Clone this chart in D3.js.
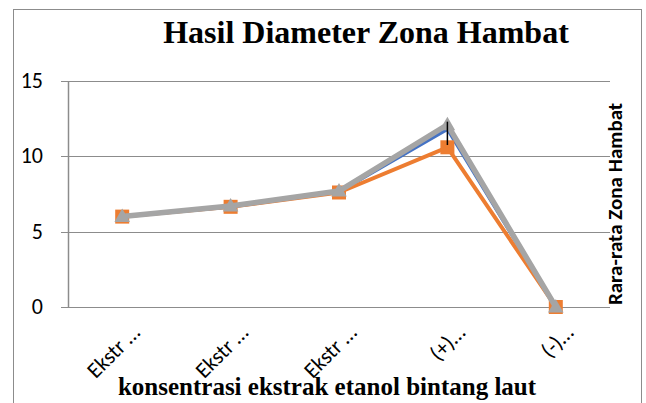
<!DOCTYPE html>
<html>
<head>
<meta charset="utf-8">
<script src="https://cdn.jsdelivr.net/npm/d3@7"></script>
<style>
  body { margin: 0; background: #fff; }
  svg { display: block; }
</style>
</head>
<body>
<svg id="chart" width="646" height="403"></svg>
<script>
// data
const categories = ['Ekstr …', 'Ekstr …', 'Ekstr …', '(+)…', '(-)…'];
const seriesBlue = [6.0, 6.65, 7.65, 11.8, 0];
const seriesOrange = [6.0, 6.65, 7.6, 10.6, 0];
const seriesGray = [6.0, 6.7, 7.7, 12.1, 0];
// error bar drawn only on the peak point
const errorLow = [null, null, null, 10.75, null];
const errorHigh = [null, null, null, 12.3, null];
const yTicks = [0, 5, 10, 15];

const svg = d3.select('#chart');
const margin = { left: 68, right: 36, top: 81, bottom: 96 };
const W = 646, H = 403;
const sans = 'Carlito, "Liberation Sans", sans-serif';
const serif = '"Liberation Serif", "Times New Roman", serif';

// outer frame
svg.append('rect')
  .attr('x', 13.5).attr('y', 9.5)
  .attr('width', 628).attr('height', 400)
  .attr('fill', 'none').attr('stroke', '#8c8c8c').attr('stroke-width', 1);

const x = d3.scalePoint()
  .domain(d3.range(categories.length))
  .range([margin.left, W - margin.right])
  .padding(0.5);

const y = d3.scaleLinear()
  .domain([0, 15])
  .range([H - margin.bottom, margin.top]);

// grid lines
svg.append('g')
  .selectAll('line')
  .data(yTicks)
  .enter()
  .append('line')
  .attr('x1', margin.left - 7)
  .attr('x2', W - margin.right)
  .attr('y1', d => Math.round(y(d)) + 0.5)
  .attr('y2', d => Math.round(y(d)) + 0.5)
  .attr('stroke', '#8c8c8c')
  .attr('stroke-width', 1.2);

// y axis line
svg.append('line')
  .attr('x1', margin.left + 0.5).attr('x2', margin.left + 0.5)
  .attr('y1', y(15)).attr('y2', y(0))
  .attr('stroke', '#8c8c8c').attr('stroke-width', 1.5);

// y tick labels
svg.append('g')
  .selectAll('text')
  .data(yTicks)
  .enter()
  .append('text')
  .attr('x', 43)
  .attr('y', d => y(d) + 7)
  .attr('text-anchor', 'end')
  .style('font-family', sans)
  .style('font-size', '22px')
  .style('fill', '#000')
  .text(d => d);

// x tick labels
svg.append('g')
  .selectAll('text')
  .data(categories)
  .enter()
  .append('text')
  .attr('transform', (d, i) => `translate(${x(i) + 19},${y(0) + 27}) rotate(-45)`)
  .attr('text-anchor', 'end')
  .style('font-family', sans)
  .style('font-size', '22px')
  .style('fill', '#000')
  .text(d => d);

const line = d3.line()
  .x((d, i) => x(i))
  .y(d => y(d));

// blue series
svg.append('path')
  .datum(seriesBlue)
  .attr('d', line)
  .attr('fill', 'none')
  .attr('stroke', '#4472c4')
  .attr('stroke-width', 3.5)
  .attr('stroke-linejoin', 'round');

// orange series
svg.append('path')
  .datum(seriesOrange)
  .attr('d', line)
  .attr('fill', 'none')
  .attr('stroke', '#ed7d31')
  .attr('stroke-width', 4)
  .attr('stroke-linejoin', 'round');

svg.append('g')
  .selectAll('rect')
  .data(seriesOrange)
  .enter()
  .append('rect')
  .attr('x', (d, i) => x(i) - 7)
  .attr('y', d => y(d) - 7)
  .attr('width', 14)
  .attr('height', 14)
  .attr('fill', '#ed7d31');

// gray series
svg.append('path')
  .datum(seriesGray)
  .attr('d', line)
  .attr('fill', 'none')
  .attr('stroke', '#a5a5a5')
  .attr('stroke-width', 5.5)
  .attr('stroke-linejoin', 'miter');

const tri = d3.symbol().type(d3.symbolTriangle).size(105);
svg.append('g')
  .selectAll('path')
  .data(seriesGray)
  .enter()
  .append('path')
  .attr('d', tri)
  .attr('transform', (d, i) => `translate(${x(i)},${y(d) + 1})`)
  .attr('fill', '#a5a5a5');

// error bar
svg.append('g')
  .selectAll('line')
  .data(errorLow.map((lo, i) => ({ i, lo, hi: errorHigh[i] })).filter(d => d.lo !== null))
  .enter()
  .append('line')
  .attr('x1', d => x(d.i)).attr('x2', d => x(d.i))
  .attr('y1', d => y(d.hi)).attr('y2', d => y(d.lo))
  .attr('stroke', '#000').attr('stroke-width', 1.5);

// titles
svg.append('text')
  .attr('x', 366)
  .attr('y', 43)
  .attr('text-anchor', 'middle')
  .style('font-family', serif)
  .style('font-weight', 'bold')
  .style('font-size', '32px')
  .text('Hasil Diameter Zona Hambat');

svg.append('text')
  .attr('x', 327)
  .attr('y', 395)
  .attr('text-anchor', 'middle')
  .style('font-family', serif)
  .style('font-weight', 'bold')
  .style('font-size', '25px')
  .text('konsentrasi ekstrak etanol bintang laut');

svg.append('text')
  .attr('transform', 'translate(622,204) rotate(-90)')
  .attr('text-anchor', 'middle')
  .style('font-family', sans)
  .style('font-weight', 'bold')
  .style('font-size', '21px')
  .text('Rara-rata Zona Hambat');
</script>
</body>
</html>
